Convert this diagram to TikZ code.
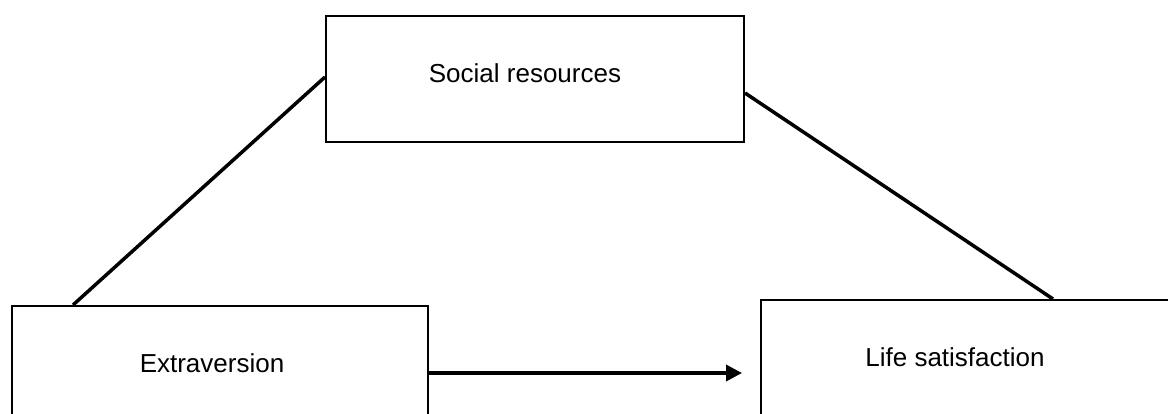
\documentclass[tikz,border=0pt]{standalone}
\usepackage{fontspec}
\setmainfont{Liberation Sans}
\usetikzlibrary{arrows.meta,calc}
\begin{document}
\begin{tikzpicture}[x=1pt,y=-1pt,
  boxnode/.style={draw=black,line width=2pt,fill=white,inner sep=0pt,anchor=north west},
  labelnode/.style={inner sep=0pt,font=\fontsize{26}{30}\selectfont},
  linkline/.style={draw=black,line width=3.5pt},
  arrowline/.style={draw=black,line width=3.5pt,-{Triangle[length=16pt,width=16pt]}}]
\useasboundingbox (0,0) rectangle (1168,413);
\clip (0,0) rectangle (1168,413);
\fill[white] (0,0) rectangle (1168,413);
% boxes
\node[boxnode,minimum width=418pt,minimum height=126pt] (soc) at (325,15) {};
\node[boxnode,minimum width=416pt,minimum height=130pt] (ext) at (11,305) {};
\node[boxnode,minimum width=440pt,minimum height=130pt] (life) at (760,299) {};
% labels
\node[labelnode] (socl) at (525,73) {Social resources};
\node[labelnode] (extl) at (212,363) {Extraversion};
\node[labelnode] (lifel) at (955,357) {Life satisfaction};
% connectors
\draw[linkline] ($(ext.north west)+(62,0)$) -- ($(soc.north west)+(0,62)$);
\draw[linkline] ($(life.north west)+(293,0)$) -- ($(soc.north east)+(0,78)$);
\draw[arrowline] ($(ext.north east)+(0,68)$) -- ($(life.north west)+(-18,74)$);
\end{tikzpicture}
\end{document}
